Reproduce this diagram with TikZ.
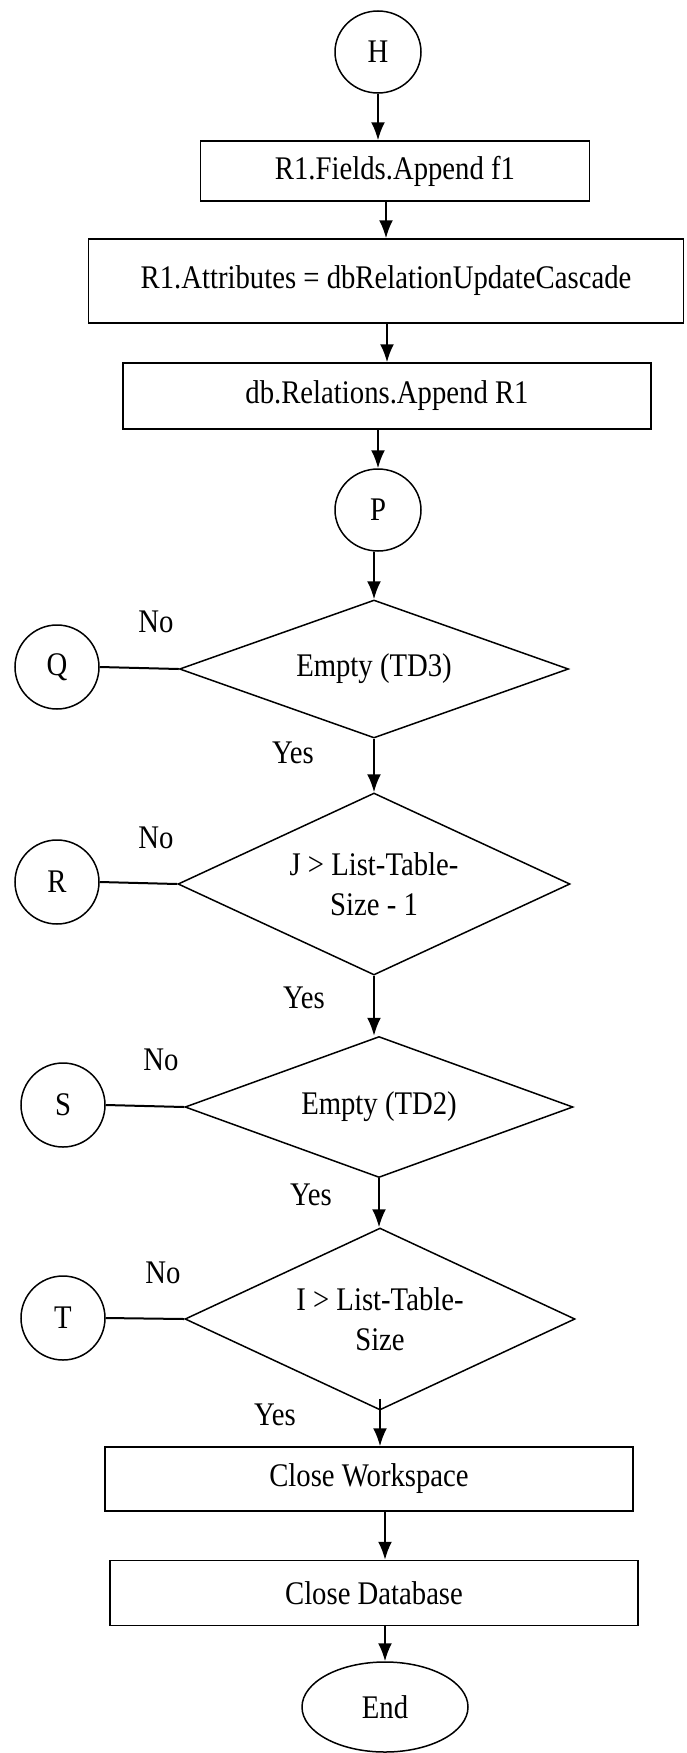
\documentclass[tikz,border=0pt]{standalone}
\usepackage{fontspec}
\setmainfont{Liberation Serif}[FakeStretch=0.87]
\usetikzlibrary{arrows.meta}
\usetikzlibrary{shapes.geometric}
\tikzset{conn/.style = {draw, ellipse, line width=1.5pt, minimum width=86pt, minimum height=82pt, inner sep=0}}
\tikzset{proc/.style = {draw, rectangle, line width=1.5pt, inner sep=0}}
\tikzset{dec/.style = {draw, diamond, aspect=2.2, line width=1.5pt, inner sep=0, align=center}}
\tikzset{flow/.style = {-{Latex[length=18pt,width=14pt]}, line width=2pt}}
\tikzset{tie/.style = {line width=2pt}}

\begin{document}
\begin{tikzpicture}[x=1pt, y=-1pt, font=\fontsize{33}{40}\selectfont]
    \useasboundingbox (0,0) rectangle (686,1753);
    \node [conn] (H) at (378,52) {H};
    \node [proc, minimum width=389pt, minimum height=60pt] (B1) at (395,171) {R1.Fields.Append f1};
    \node [proc, minimum width=595pt, minimum height=84pt] (B2) at (386,281) {R1.Attributes = dbRelationUpdateCascade};
    \node [proc, minimum width=528pt, minimum height=66pt] (B3) at (387,396) {db.Relations.Append R1};
    \node [conn] (P) at (378,510) {P};
    \node [dec, minimum width=389pt, minimum height=138pt] (D1) at (374,669) {Empty (TD3)};
    \node [dec, minimum width=392pt, minimum height=182pt] (D2) at (374,884) {J > List-Table-\\Size - 1};
    \node [dec, minimum width=388pt, minimum height=141pt] (D3) at (379,1107) {Empty (TD2)};
    \node [dec, minimum width=390pt, minimum height=182pt] (D4) at (380,1319) {I > List-Table-\\Size};
    \node [proc, minimum width=528pt, minimum height=64pt] (CW) at (369,1479) {Close Workspace};
    \node [proc, minimum width=528pt, minimum height=65pt] (CD) at (374,1593) {Close Database};
    \node [conn, minimum width=166pt, minimum height=90pt] (End) at (385,1707) {End};
    % off-page connectors
    \node [conn, minimum width=84pt, minimum height=84pt] (Q) at (57,667) {Q};
    \node [conn, minimum width=84pt, minimum height=84pt] (R) at (57,882) {R};
    \node [conn, minimum width=84pt, minimum height=84pt] (S) at (63,1105) {S};
    \node [conn, minimum width=84pt, minimum height=84pt] (T) at (63,1318) {T};
    % branch labels
    \node (noQ) at (156,622) {No};
    \node (noR) at (156,838) {No};
    \node (noS) at (161,1060) {No};
    \node (noT) at (163,1273) {No};
    \node (yesA) at (293,753) {Yes};
    \node (yesB) at (304,998) {Yes};
    \node (yesC) at (311,1195) {Yes};
    \node (yesD) at (275,1415) {Yes};
    % flow
    \draw [flow] (H.south) -- (H.south |- B1.north);
    \draw [flow] (B2.north |- B1.south) -- (B2.north);
    \draw [flow] (B3.north |- B2.south) -- (B3.north);
    \draw [flow] (P.north |- B3.south) -- (P.north);
    \draw [flow] (D1.north |- P.south) -- (D1.north);
    \draw [flow] (D1.south) -- (D2.north);
    \draw [flow] (D2.south) -- (D2.south |- D3.north);
    \draw [flow] (D3.south) -- (D3.south |- D4.north);
    \draw [flow] ([yshift=12pt]D4.south) -- (D4.south |- CW.north);
    \draw [flow] (End.north |- CW.south) -- (End.north |- CD.north);
    \draw [flow] (End.north |- CD.south) -- (End.north);
    \draw [tie] (Q.east) -- (D1.west);
    \draw [tie] (R.east) -- (D2.west);
    \draw [tie] (S.east) -- (D3.west);
    \draw [tie] (T.east) -- (D4.west);
\end{tikzpicture}
\end{document}
